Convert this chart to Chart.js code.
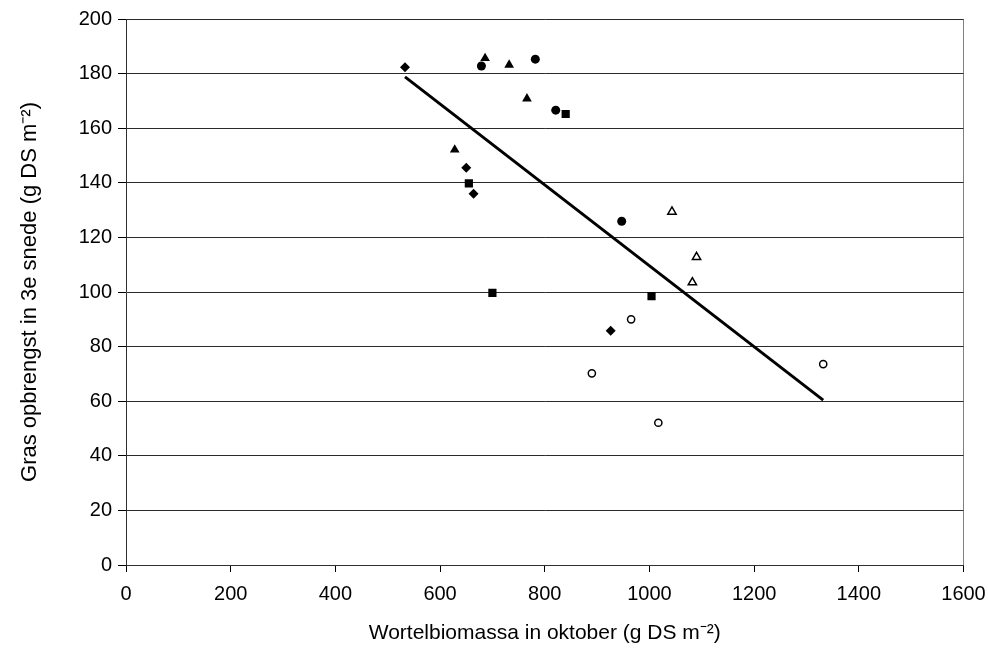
<!DOCTYPE html>
<html>
<head>
<meta charset="utf-8">
<script src="https://cdn.jsdelivr.net/npm/chart.js@4"></script>
<style>
  html, body { margin: 0; padding: 0; background: #ffffff; }
  #wrap { width: 988px; height: 651px; }
</style>
</head>
<body>
<div id="wrap"><canvas id="c" width="988" height="651"></canvas></div>
<script>
// ---- data ----
const xTitle = "Wortelbiomassa in oktober (g DS m\u207B\u00B2)";
const yTitle = "Gras opbrengst in 3e snede (g DS m\u207B\u00B2)";

const diamondX = [533, 650, 664, 926];
const diamondY = [182.3, 145.5, 136.0, 85.8];

const squareX = [655, 700, 840, 1004];
const squareY = [139.8, 99.7, 165.2, 98.5];

const triangleX = [686, 732, 766, 628];
const triangleY = [185.6, 183.2, 170.8, 152.1];

const circleX = [679, 782, 821, 947];
const circleY = [182.8, 185.3, 166.6, 125.9];

const openTriangleX = [1043, 1090, 1082];
const openTriangleY = [129.4, 112.8, 103.5];

const openCircleX = [965, 890, 1017, 1332];
const openCircleY = [90.0, 70.2, 52.1, 73.6];

const trendX = [533, 1332];
const trendY = [178.8, 60.4];

const xMin = 0, xMax = 1600, xStep = 200;
const yMin = 0, yMax = 200, yStep = 20;

// ---- helpers ----
function pts(xs, ys) { return xs.map((x, i) => ({ x: x, y: ys[i] })); }

const FONT = "'Liberation Sans', Arial, Helvetica, sans-serif";

const datasets = [
  { label: 'diamond', data: pts(diamondX, diamondY), pointStyle: 'rectRot', pointRadius: 5,
    backgroundColor: '#000', borderColor: '#000', borderWidth: 0 },
  { label: 'square', data: pts(squareX, squareY), pointStyle: 'rect', pointRadius: 5.8,
    backgroundColor: '#000', borderColor: '#000', borderWidth: 0 },
  { label: 'triangle', data: pts(triangleX, triangleY), pointStyle: 'triangle', pointRadius: 5.6,
    backgroundColor: '#000', borderColor: '#000', borderWidth: 0 },
  { label: 'circle', data: pts(circleX, circleY), pointStyle: 'circle', pointRadius: 4.5,
    backgroundColor: '#000', borderColor: '#000', borderWidth: 0 },
  { label: 'openTriangle', data: pts(openTriangleX, openTriangleY), pointStyle: 'triangle', pointRadius: 4.8,
    backgroundColor: '#fff', borderColor: '#000', borderWidth: 1.5 },
  { label: 'openCircle', data: pts(openCircleX, openCircleY), pointStyle: 'circle', pointRadius: 3.6,
    backgroundColor: '#fff', borderColor: '#000', borderWidth: 1.5 },
  { label: 'trend', data: pts(trendX, trendY), showLine: true, pointRadius: 0,
    borderColor: '#000', borderWidth: 3, fill: false, order: 10 }
];

new Chart(document.getElementById('c'), {
  type: 'scatter',
  data: { datasets: datasets },
  options: {
    responsive: false,
    animation: false,
    events: [],
    layout: { padding: { top: 19, right: 24.5, left: 0, bottom: 0 } },
    plugins: { legend: { display: false }, tooltip: { enabled: false } },
    scales: {
      x: {
        type: 'linear', min: xMin, max: xMax,
        ticks: { stepSize: xStep, color: '#000', font: { family: FONT, size: 20 }, padding: 10, maxRotation: 0,
                 callback: (v) => String(v) },
        grid: {
          color: (ctx) => (ctx.tick && ctx.tick.value === xMax) ? '#808080' : 'rgba(0,0,0,0)',
          tickColor: '#000', tickLength: 7, lineWidth: 1
        },
        border: { color: '#303030', width: 1 },
        title: { display: true, text: xTitle, color: '#000', font: { family: FONT, size: 21 }, padding: 5 },
        afterFit: (s) => { s.height = 86; s.paddingRight = 0; s.paddingLeft = 0; }
      },
      y: {
        type: 'linear', min: yMin, max: yMax,
        ticks: { stepSize: yStep, color: '#000', font: { family: FONT, size: 20 }, padding: 6,
                 callback: (v) => String(v) },
        grid: { color: '#2a2a2a', tickColor: '#000', tickLength: 8, lineWidth: 1 },
        border: { color: '#303030', width: 1 },
        title: { display: true, text: yTitle, color: '#000', font: { family: FONT, size: 22 }, padding: 17 },
        afterFit: (s) => { s.width = 126; s.paddingTop = 0; s.paddingBottom = 0; }
      }
    }
  }
});
</script>
</body>
</html>
